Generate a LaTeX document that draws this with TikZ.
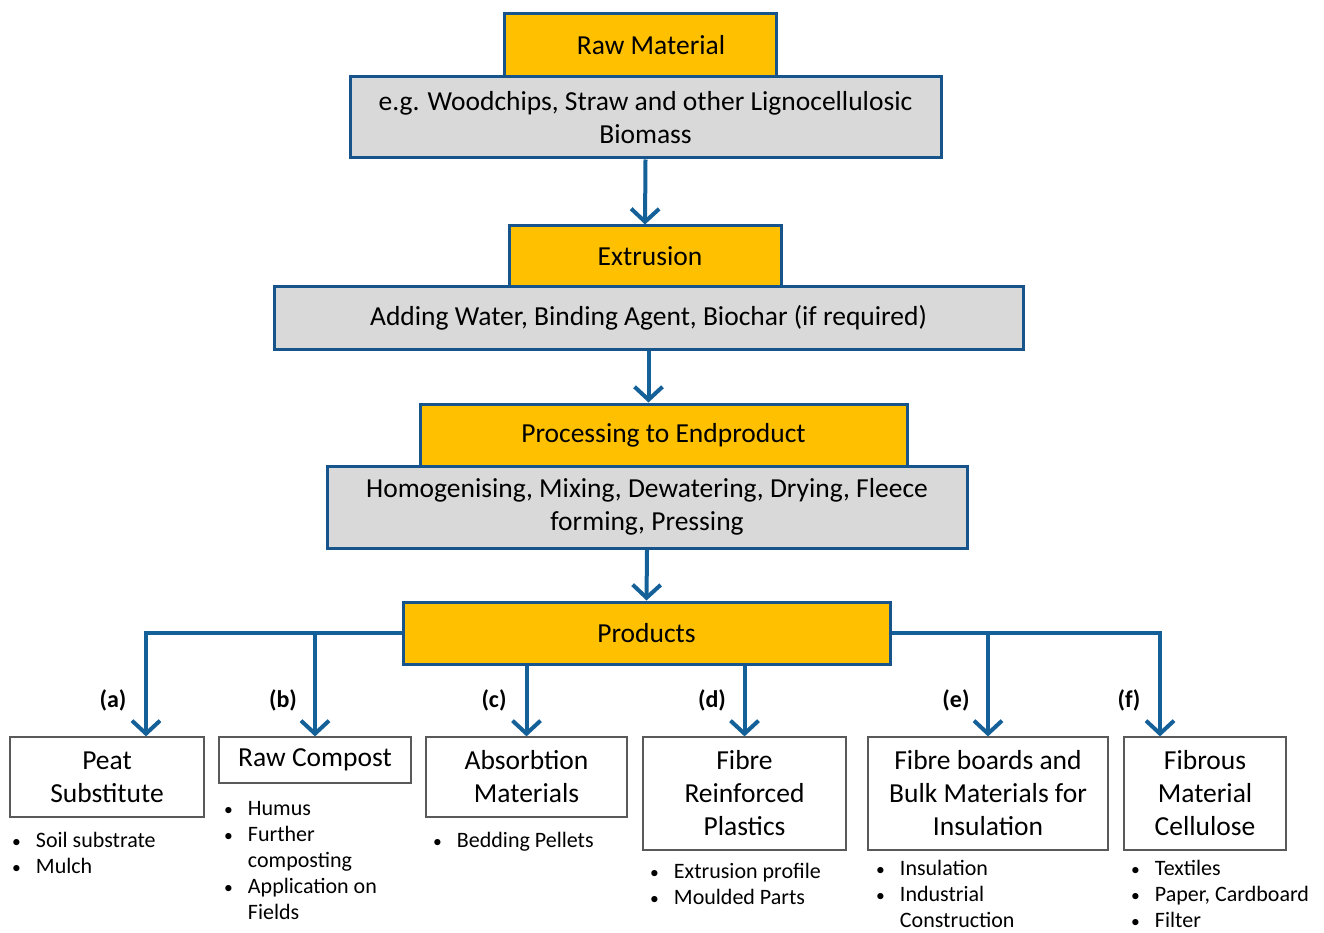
\documentclass[tikz,border=0pt]{standalone}
\usepackage{fontspec}
\setmainfont{Carlito}
\usetikzlibrary{arrows.meta, positioning}
\definecolor{boxblue}{RGB}{24,84,140}
\definecolor{arrowblue}{RGB}{20,96,152}
\definecolor{gold}{RGB}{255,192,0}
\definecolor{lightgray}{RGB}{217,217,217}
\newcommand{\bul}{\scalebox{0.8}{\textbullet}}

\begin{document}
\begin{tikzpicture}[x=1pt, y=-1pt,
  head/.style={draw=boxblue, fill=gold, line width=3pt, inner sep=0pt, align=center,
    font=\fontsize{27.5}{33}\selectfont},
  sub/.style={draw=boxblue, fill=lightgray, line width=3pt, inner sep=0pt, align=center,
    font=\fontsize{27.5}{33}\selectfont},
  prodbox/.style={draw=black!65, line width=1.2pt, inner sep=0pt, align=center,
    font=\fontsize{27.5}{33}\selectfont},
  flow/.style={draw=arrowblue, line width=4pt, -{Straight Barb[length=13pt, width=28pt, line width=4pt]}},
  tag/.style={font=\fontsize{24}{28}\selectfont\bfseries},
  items/.style={anchor=north west, inner sep=0pt, font=\fontsize{22}{26}\selectfont}]
\useasboundingbox (0,0) rectangle (1324,933);

% process chain
\node[head, minimum width=272, minimum height=63] (raw) at (640, 45.5) {\hspace*{22pt}Raw Material};
\node[sub, minimum width=591, minimum height=81] (rawd) at (645.5, 117.5)
  {e.g. Woodchips, Straw and other Lignocellulosic\\Biomass};
\node[head, minimum width=272, minimum height=60] (ext) at (645, 256) {\hspace*{10pt}Extrusion};
\node[sub, minimum width=749, minimum height=63] (extd) at (648.5, 317.5)
  {Adding Water, Binding Agent, Biochar (if required)};
\node[head, minimum width=487, minimum height=62] (proc) at (663.5, 435) {Processing to Endproduct};
\node[sub, minimum width=640, minimum height=82] (procd) at (647, 507)
  {Homogenising, Mixing, Dewatering, Drying, Fleece\\forming, Pressing};
\node[head, minimum width=487, minimum height=62] (prod) at (646.5, 633) {Products};

\draw[flow] (rawd.south) -- (ext.north);
\draw[flow] (extd.south) -- (extd.south |- proc.north);
\draw[flow] (procd.south) -- (prod.north);

% products
\node[prodbox, minimum width=194, minimum height=80] (pa) at (107, 777) {Peat\\Substitute};
\node[prodbox, minimum width=192, minimum height=46] (pb) at (315, 760) {Raw Compost};
\node[prodbox, minimum width=201, minimum height=80] (pc) at (526.5, 777) {Absorbtion\\Materials};
\node[prodbox, minimum width=203, minimum height=113] (pd) at (744.5, 793.5) {Fibre\\Reinforced\\Plastics};
\node[prodbox, minimum width=240, minimum height=113] (pe) at (988, 793.5)
  {Fibre boards and\\Bulk Materials for\\Insulation};
\node[prodbox, minimum width=162, minimum height=113] (pf) at (1205, 793.5) {Fibrous\\Material\\Cellulose};

\draw[flow] (prod.west) -| ([xshift=39pt]pa.north);
\draw[flow] (pb.north |- prod.west) -- (pb.north);
\draw[flow] (pc.north |- prod.south) -- (pc.north);
\draw[flow] (pd.north |- prod.south) -- (pd.north);
\draw[flow] (pe.north |- prod.east) -- (pe.north);
\draw[flow] (prod.east) -| ([xshift=-45pt]pf.north);

\node[tag] (ta) at (113, 700) {(a)};
\node[tag] (tb) at (283, 700) {(b)};
\node[tag] (tc) at (494, 700) {(c)};
\node[tag] (td) at (712, 700) {(d)};
\node[tag] (te) at (956, 700) {(e)};
\node[tag] (tf) at (1129, 700) {(f)};

% bullet lists
\node[items] (la) at (12, 829) {\begin{tabular}{@{}l@{\hspace{15pt}}l@{}}
  \bul & Soil substrate\\ \bul & Mulch\end{tabular}};
\node[items] (lb) at (224, 797) {\begin{tabular}{@{}l@{\hspace{15pt}}l@{}}
  \bul & Humus\\ \bul & Further\\ & composting\\ \bul & Application on\\ & Fields\end{tabular}};
\node[items] (lc) at (433, 829) {\begin{tabular}{@{}l@{\hspace{15pt}}l@{}}
  \bul & Bedding Pellets\end{tabular}};
\node[items] (ld) at (650, 860) {\begin{tabular}{@{}l@{\hspace{15pt}}l@{}}
  \bul & Extrusion profile\\ \bul & Moulded Parts\end{tabular}};
\node[items] (le) at (876, 857) {\begin{tabular}{@{}l@{\hspace{15pt}}l@{}}
  \bul & Insulation\\ \bul & Industrial\\ & Construction\end{tabular}};
\node[items] (lf) at (1131, 857) {\begin{tabular}{@{}l@{\hspace{15pt}}l@{}}
  \bul & Textiles\\ \bul & Paper, Cardboard\\ \bul & Filter\end{tabular}};
\end{tikzpicture}
\end{document}
